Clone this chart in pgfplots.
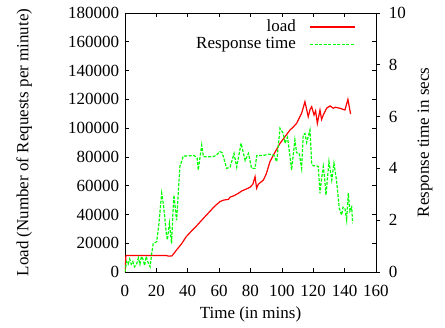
\documentclass[border=0pt]{standalone}
\usepackage{pgfplots}
\pgfplotsset{compat=1.18}
\usepackage{fontspec}
\setmainfont{Liberation Serif}
\begin{document}
\fontsize{17}{20}\selectfont
\begin{tikzpicture}
\begin{axis}[
  name=main,
  scale only axis,
  width=251pt, height=259pt,
  xmin=0, xmax=160, ymin=0, ymax=180000,
  xtick={0,20,...,160},
  ytick={0,20000,...,180000},
  scaled ticks=false,
  yticklabel style={/pgf/number format/fixed, /pgf/number format/1000 sep={}},
  /pgf/number format/assume math mode=true,
  xtick pos=both, ytick pos=both,
  xticklabel pos=left, yticklabel pos=left,
  xticklabel style={yshift=-7pt},
  tick align=inside,
  major tick length=4pt,
  axis line style={line width=0.9pt},
  tick style={black, line width=0.7pt},
  every axis x label/.style={at={(axis description cs:0.5,-0.162)},anchor=center},
  every axis y label/.style={at={(axis description cs:-0.402,0.5)},anchor=center,rotate=90},
  xlabel={Time (in mins)},
  ylabel={Load (Number of Requests per minute)},
]
\addplot[red, line width=1.2pt, forget plot] coordinates {
(0,0)(0.6,11500)(10,11500)(20,11500)(26,11500)(28,11000)(30,11200)(33,15500)(36,19500)(39,24500)
(42,28000)(46,32500)(50,37300)(54,42000)(57,45500)(60.5,48900)(63,50000)(66,50500)(67,52000)
(69,52800)(72,54500)(74.4,56300)(77,57500)(79.7,58900)(81.5,61000)(82.9,66200)(83.9,58200)
(85,61000)(88.2,63900)(90,68000)(92.4,76700)(95,82000)(98.8,89400)(102,94000)(105.2,98700)
(107,100500)(109.4,103300)(112.6,110300)(114.7,118300)(116,112000)(116.8,107900)(118,113000)
(119,114900)(120.5,109100)(121.5,112000)(122.6,103300)(124.3,112600)(125.3,106000)(126.4,109100)
(128.5,113800)(130.7,115400)(132.8,113800)(134,114500)(137,113800)(140.2,112600)(142.1,120000)
(143.8,109800)
};
\end{axis}
\begin{axis}[
  scale only axis,
  width=251pt, height=259pt,
  xmin=0, xmax=160, ymin=0, ymax=10,
  axis x line=none,
  axis y line*=right,
  ytick={0,2,...,10},
  ytick align=outside,
  major tick length=4pt,
  /pgf/number format/assume math mode=true,
  yticklabel style={xshift=3pt},
  axis line style={line width=0.9pt},
  tick style={black, line width=0.7pt},
  every axis y label/.style={at={(axis description cs:1.195,0.5)},anchor=center,rotate=90},
  ylabel={Response time in secs},
  legend style={at={(axis description cs:0.925,0.985)}, anchor=north east, draw=none, fill=none,
    row sep=-1pt, inner sep=1pt},
  legend cell align=right,
  legend plot pos=right,
]
\addlegendimage{legend image code/.code={\path (0pt,0pt); \draw[red, line width=1.8pt] (12pt,0pt) -- (57pt,0pt);}}
\addlegendentry{load}
\addlegendimage{legend image code/.code={\path (0pt,0pt); \draw[green, line width=1.2pt, dash pattern=on 3pt off 1.5pt] (12pt,0pt) -- (57pt,0pt);}}
\addlegendentry{Response time}
\addplot[green, line width=1.2pt, dash pattern=on 3pt off 1.5pt, forget plot] coordinates {
(0,0)(1,0.4)(2,0.3)(3,0.5)(4,0.3)(5,0.4)(6,0.2)(7.4,0.3)(8.5,0.55)(9.5,0.3)(10.5,0.6)(11.7,0.45)
(12.5,0.25)(13.5,0.6)(14.5,0.4)(16,0.2)(17,0.7)(18,1.1)(20.2,1.17)(21.5,1.8)(23.4,3.04)(24.5,2.6)
(25.5,2.0)(26.3,1.5)(27,1.24)(28.3,1.88)(29.7,1.1)(30.5,2.2)(31.2,2.97)(32,2.5)(32.9,2.0)(35,4.07)
(37.2,4.48)(40,4.48)(44,4.5)(46,4.4)(46.7,3.94)(48.9,4.9)(50,4.45)(52,4.45)(56,4.45)(58,4.5)
(60.5,4.65)(62,4.6)(64.8,4.0)(67,4.05)(69.5,4.58)(71.2,4.05)(74,4.97)(76.6,4.3)(78.7,4.58)
(80.7,4.0)(82.9,4.0)(84,4.5)(88,4.5)(92,4.55)(95,4.5)(96.7,4.26)(98.8,5.55)(100.9,5.35)(102,4.97)
(103.6,5.2)(105.2,4.45)(106.2,3.94)(108.3,5.1)(109.4,4.6)(111,4.6)(112.6,4.0)(113.6,5.29)
(114.7,5.35)(115.8,5.0)(117.9,5.48)(119,4.2)(120,4.1)(122,4.1)(123.2,4.07)(124.3,3.04)(125.3,3.6)
(126.4,4.07)(127.3,3.6)(128.1,2.97)(130,4.26)(131.8,3.55)(133.2,4.2)(134.9,3.5)(136.6,2.46)
(138.1,2.2)(139,2.5)(140.2,2.46)(141.3,2.0)(142.3,3.04)(143.4,2.35)(144.5,2.5)(145.1,1.88)
};
\end{axis}
\path (main.south west) +(-125pt,-56pt);
\path (main.north east) +(69pt,13pt);
\end{tikzpicture}
\end{document}
